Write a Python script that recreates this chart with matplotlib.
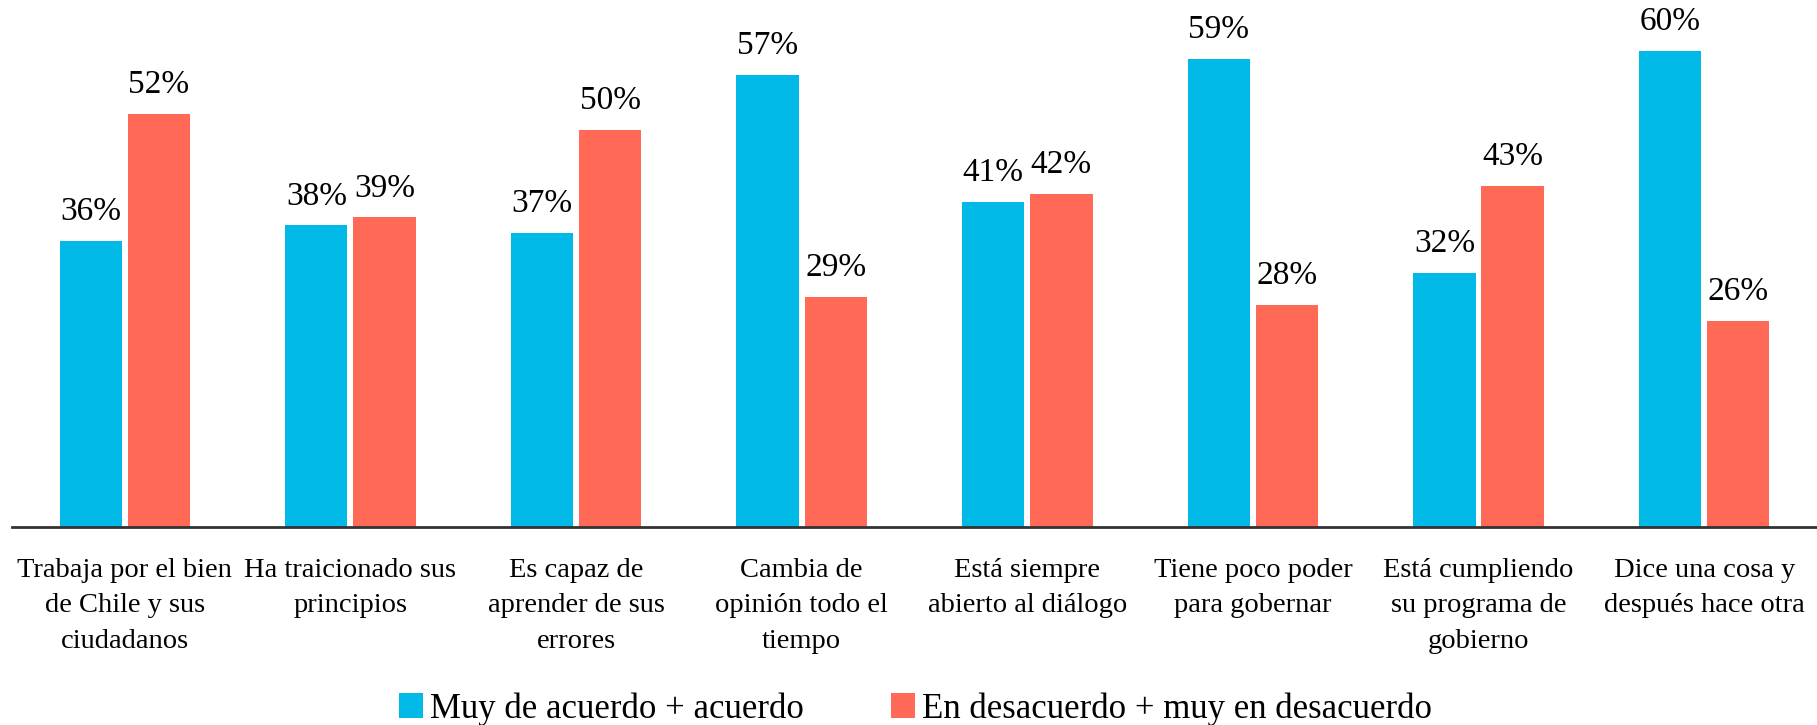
import matplotlib.pyplot as plt
import numpy as np

plt.rcParams['font.family'] = ['Liberation Serif', 'DejaVu Serif']

categories = [
    "Trabaja por el bien\nde Chile y sus\nciudadanos",
    "Ha traicionado sus\nprincipios",
    "Es capaz de\naprender de sus\nerrores",
    "Cambia de\nopinión todo el\ntiempo",
    "Está siempre\nabierto al diálogo",
    "Tiene poco poder\npara gobernar",
    "Está cumpliendo\nsu programa de\ngobierno",
    "Dice una cosa y\ndespués hace otra",
]
acuerdo = [36, 38, 37, 57, 41, 59, 32, 60]
desacuerdo = [52, 39, 50, 29, 42, 28, 43, 26]
series_names = ["Muy de acuerdo + acuerdo", "En desacuerdo + muy en desacuerdo"]

blue = '#00B9E7'
red = '#FF6955'

fig = plt.figure(figsize=(18.17, 7.25), dpi=100)
ax = fig.add_axes([0.0066, 0.273, 0.9934, 0.727])

x = np.arange(len(categories))
w = 0.276
off = 0.151

b1 = ax.bar(x - off, acuerdo, w, color=blue, label=series_names[0])
b2 = ax.bar(x + off, desacuerdo, w, color=red, label=series_names[1])

for bars, vals in [(b1, acuerdo), (b2, desacuerdo)]:
    for rect, v in zip(bars, vals):
        ax.annotate(f"{v}%", (rect.get_x() + rect.get_width() / 2, v),
                    xytext=(0, 10), textcoords='offset points',
                    ha='center', va='bottom', fontsize=24, color='black')

ax.set_xlim(-0.5, len(categories) - 0.5)
ax.set_ylim(0, 66.4)
ax.set_yticks([])
ax.set_xticks(x)
ax.set_xticklabels(categories, fontsize=20.5, linespacing=1.56)
ax.tick_params(axis='x', length=0, pad=22)

for s in ['top', 'right', 'left']:
    ax.spines[s].set_visible(False)
ax.spines['bottom'].set_color('#333333')
ax.spines['bottom'].set_linewidth(2)

fig.legend(handles=[b1, b2], loc='center', bbox_to_anchor=(0.504, 0.022),
           ncol=2, frameon=False, fontsize=25, handlelength=0.7,
           handleheight=0.7, handletextpad=0.2, columnspacing=2.5)

fig.savefig('out.png', dpi=100)
